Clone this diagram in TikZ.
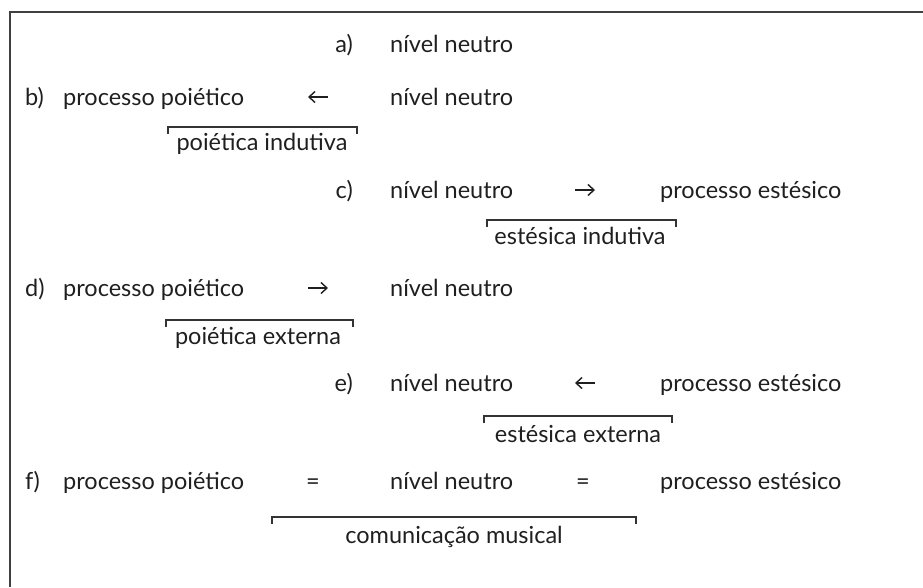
\documentclass[tikz,border=0pt]{standalone}
\usepackage{fontspec}
\setmainfont{Lato}
\usetikzlibrary{arrows.meta}
\begin{document}
\begin{tikzpicture}[x=1pt,y=-1pt,
  txt/.style={inner sep=0pt,font=\fontsize{23.5}{28}\selectfont,text=black!88},
  lab/.style={txt,anchor=base west},
  rlab/.style={txt,anchor=base east},
  ctr/.style={txt,anchor=base},
  brk/.style={draw=black!80,line width=1.4pt},
  arr/.style={draw=black!88,line width=1.4pt,-{Straight Barb[length=6pt,width=11pt]}},
  frame/.style={draw=black!75,line width=1.3pt}]
\useasboundingbox (0,0) rectangle (923,587);
\draw[frame] (923,12) -- (10,12) -- (10,587);
% a)
\node[rlab] (la) at (353,52) {a)};
\node[lab] (na) at (390,52) {nível neutro};
% b)
\node[lab] (lb) at (25,105) {b)};
\node[lab] (pb) at (63,105) {processo poiético};
\node[lab] (nb) at (390,105) {nível neutro};
\coordinate (b1) at (328,97); \coordinate (b2) at (308,97);
\draw[arr] (b1) -- (b2);
\draw[brk] (168,134) -- (168,127) -- (357,127) -- (357,134);
\node[ctr] (bi) at (262,150) {poiética indutiva};
% c)
\node[rlab] (lc) at (353,198) {c)};
\node[lab] (nc) at (390,198) {nível neutro};
\node[lab] (ec) at (660,198) {processo estésico};
\coordinate (c1) at (575,190); \coordinate (c2) at (595,190);
\draw[arr] (c1) -- (c2);
\draw[brk] (487,227) -- (487,220) -- (676,220) -- (676,227);
\node[ctr] (ci) at (580,244) {estésica indutiva};
% d)
\node[lab] (ld) at (25,296) {d)};
\node[lab] (pd) at (63,296) {processo poiético};
\node[lab] (nd) at (390,296) {nível neutro};
\coordinate (d1) at (308,288); \coordinate (d2) at (328,288);
\draw[arr] (d1) -- (d2);
\draw[brk] (166,327) -- (166,320) -- (353,320) -- (353,327);
\node[ctr] (di) at (258,344) {poiética externa};
% e)
\node[rlab] (le) at (353,391) {e)};
\node[lab] (ne) at (390,391) {nível neutro};
\node[lab] (ee) at (660,391) {processo estésico};
\coordinate (e1) at (595,383); \coordinate (e2) at (575,383);
\draw[arr] (e1) -- (e2);
\draw[brk] (484,423) -- (484,416) -- (672,416) -- (672,423);
\node[ctr] (ei) at (578,442) {estésica externa};
% f)
\node[lab] (lf) at (25,489) {f)};
\node[lab] (pf) at (63,489) {processo poiético};
\node[ctr] (q1) at (313,489) {=};
\node[lab] (nf) at (390,489) {nível neutro};
\node[ctr] (q2) at (583,489) {=};
\node[lab] (ef) at (660,489) {processo estésico};
\draw[brk] (272,524) -- (272,517) -- (636,517) -- (636,524);
\node[ctr] (fi) at (454,543) {comunicação musical};
\end{tikzpicture}
\end{document}
